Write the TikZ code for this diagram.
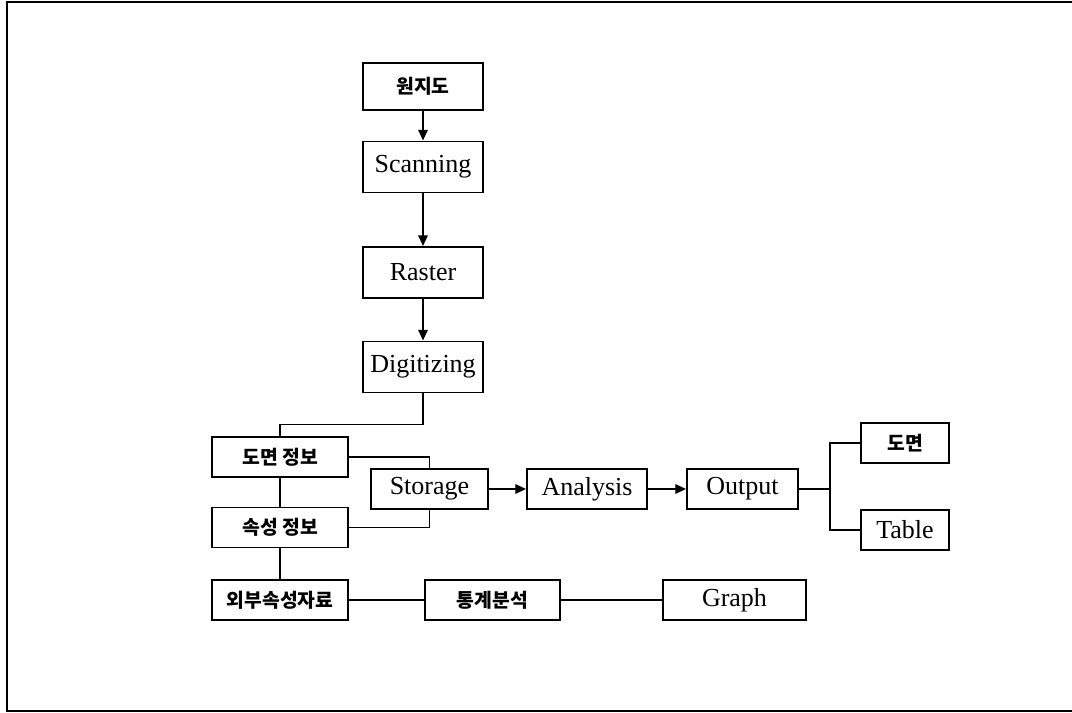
\documentclass[tikz,border=0pt]{standalone}
\usepackage{fontspec}
\setmainfont{Liberation Serif}
\newfontfamily\krfont{Noto Sans CJK KR}
\usetikzlibrary{positioning,arrows.meta}

\begin{document}
\begin{tikzpicture}[x=0.75pt,y=-0.75pt,line width=1.4pt,>={Triangle[length=8pt,width=7pt]},
  box/.style={draw,inner sep=0pt,minimum height=40*0.75pt,font=\fontsize{19.5}{22}\selectfont},
  krbox/.style={box,font=\krfont\bfseries\fontsize{14.5}{17}\selectfont}]
  \useasboundingbox (0,0) rectangle (1072,713);
  % frame
  \draw[line width=1pt] (1072,2) -- (7,2) -- (7,711) -- (1072,711);
  % input chain
  \node[krbox,minimum width=120*0.75pt,minimum height=47*0.75pt] (map) at (423,86.5) {원지도};
  \foreach \nm/\y/\lbl in {scan/167/Scanning,raster/272.5/Raster,digit/367/Digitizing}{
    \node[box,minimum width=120*0.75pt,minimum height=51*0.75pt] (\nm) at (423,\y) {\lbl};
  }
  \foreach \nm/\y/\lbl in {dmap/457/{도면 정보},attr/527.5/{속성 정보},ext/600/외부속성자료}{
    \node[krbox,minimum width=136*0.75pt] (\nm) at (280,\y) {\lbl};
  }
  % processing row
  \node[box,minimum width=117*0.75pt] (storage) at (429.5,489) {Storage};
  \node[box,minimum width=120*0.75pt] (analysis) at (587,489) {Analysis};
  \node[box,minimum width=111*0.75pt] (output) at (742.5,489) {Output};
  \node[krbox,minimum width=88*0.75pt] (outmap) at (905,443) {도면};
  \node[box,minimum width=88*0.75pt] (table) at (905,530) {Table};
  \node[krbox,minimum width=135*0.75pt] (stat) at (492.5,600) {통계분석};
  \node[box,minimum width=143*0.75pt] (graph) at (734.5,600) {Graph};
  % connectors
  \draw[->] (map) -- (scan);
  \draw[->] (scan) -- (raster);
  \draw[->] (raster) -- (digit);
  \draw (digit.south) -- ++(0,31) -| (dmap.north);
  \draw (dmap) -- (attr);
  \draw (attr) -- (ext);
  \draw (dmap.east) -| (storage.north);
  \draw (storage.south) |- (attr.east);
  \draw[->] (storage) -- (analysis);
  \draw[->] (analysis) -- (output);
  \draw (output.east) -- ++(31,0) coordinate (fork);
  \draw (outmap.west) -| (fork) |- (table.west);
  \draw (ext) -- (stat);
  \draw (stat) -- (graph);
\end{tikzpicture}
\end{document}
